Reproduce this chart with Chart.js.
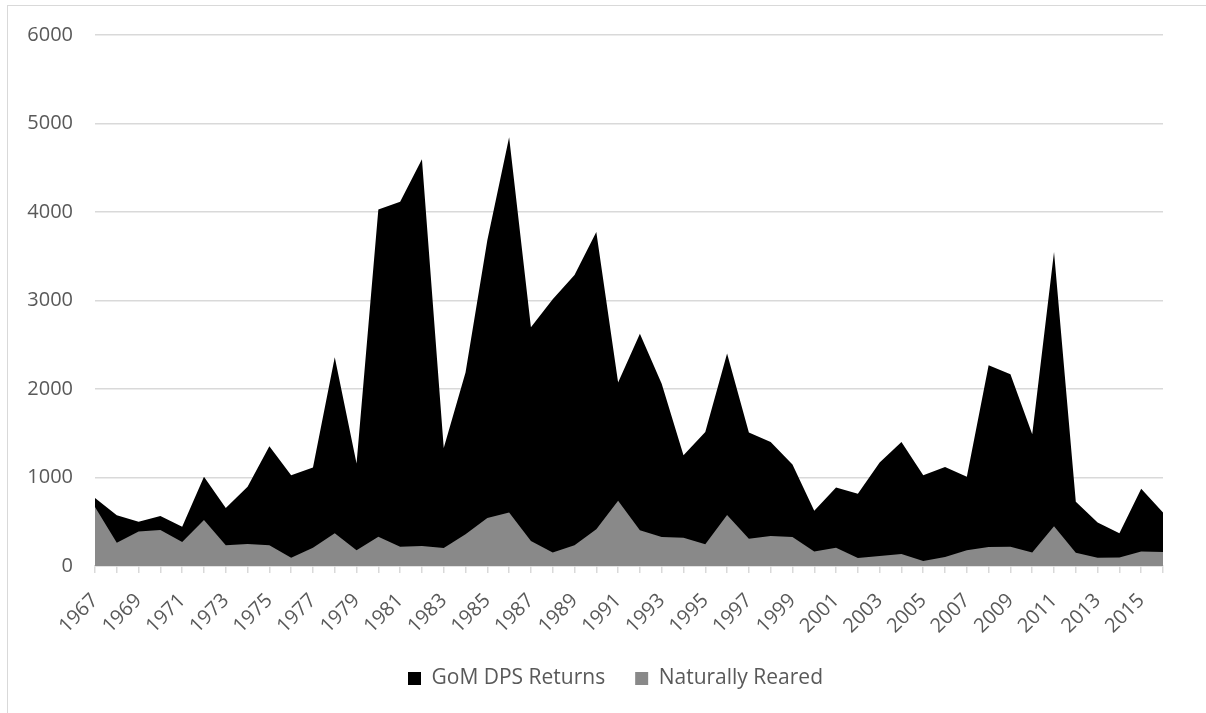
<!DOCTYPE html>
<html>
<head>
<meta charset="utf-8">
<script src="https://cdn.jsdelivr.net/npm/chart.js@4.4.1/dist/chart.umd.min.js"></script>
<style>
  html, body { margin: 0; padding: 0; background: #fff; overflow: hidden; }
  #frame { position: absolute; left: 7px; top: 5px; width: 1400px; height: 900px; border: 1px solid #d9d9d9; }
  #wrap { position: absolute; left: 0; top: 0; width: 1206px; height: 713px; }
</style>
</head>
<body>
<div id="frame"></div>
<div id="wrap"><canvas id="chart" width="1206" height="713"></canvas></div>
<script>
// annees 1967 - 2016
const years = [
  '1967','1968','1969','1970','1971','1972','1973','1974','1975','1976',
  '1977','1978','1979','1980','1981','1982','1983','1984','1985','1986',
  '1987','1988','1989','1990','1991','1992','1993','1994','1995','1996',
  '1997','1998','1999','2000','2001','2002','2003','2004','2005','2006',
  '2007','2008','2009','2010','2011','2012','2013','2014','2015','2016'
];

// GoM DPS Returns (total)
const gomReturns = [
  767, 573, 500, 565, 444, 1009, 654, 896, 1352, 1025,
  1114, 2360, 1158, 4027, 4116, 4596, 1332, 2187, 3680, 4846,
  2699, 3014, 3289, 3773, 2074, 2623, 2058, 1251, 1513, 2401,
  1509, 1400, 1146, 625, 888, 815, 1170, 1400, 1025, 1118,
  1009, 2268, 2167, 1489, 3547, 726, 492, 371, 872, 605
];

// Naturally Reared
const naturallyReared = [
  666, 262, 391, 408, 270, 520, 234, 250, 234, 93,
  206, 371, 178, 331, 218, 226, 202, 360, 541, 605,
  282, 153, 234, 416, 738, 404, 327, 319, 246, 577,
  307, 339, 327, 165, 206, 89, 113, 137, 56, 101,
  178, 214, 218, 153, 448, 149, 93, 97, 165, 157
];

const yTicks = [0, 1000, 2000, 3000, 4000, 5000, 6000];

const textColor = '#595959';
const gridColor = '#d9d9d9';
const fontFamily = '"Open Sans", "DejaVu Sans", sans-serif';

Chart.defaults.font.family = fontFamily;
Chart.defaults.font.size = 20;
Chart.defaults.color = textColor;

// decaler la legende vers la droite (centree sur le cadre)
const shiftLegend = {
    id: 'shiftLegend',
    afterLayout(chart) {
        if (chart.legend) {
            chart.legend.left += 34;
            chart.legend.right += 34;
        }
    }
};

const ctx = document.getElementById('chart').getContext('2d');

new Chart(ctx, {
    type: 'line',
    data: {
        labels: years,
        datasets: [
            {
                // dessine en dernier -> au-dessus
                label: 'Naturally Reared',
                data: naturallyReared,
                backgroundColor: '#898989',
                borderColor: '#898989',
                borderWidth: 0,
                pointRadius: 0,
                fill: 'origin',
                tension: 0
            },
            {
                label: 'GoM DPS Returns',
                data: gomReturns,
                backgroundColor: '#000000',
                borderColor: '#000000',
                borderWidth: 0,
                pointRadius: 0,
                fill: 'origin',
                tension: 0
            }
        ]
    },
    plugins: [shiftLegend],
    options: {
        responsive: false,
        animation: false,
        layout: {
            padding: { top: 35, right: 43, bottom: 14, left: 0 }
        },
        plugins: {
            tooltip: { enabled: false },
            legend: {
                position: 'bottom',
                labels: {
                    boxWidth: 13,
                    boxHeight: 13,
                    padding: 30,
                    color: textColor,
                    font: { size: 21 },
                    sort: (a, b) => b.datasetIndex - a.datasetIndex
                }
            }
        },
        scales: {
            x: {
                offset: false,
                border: { display: true, color: gridColor, width: 1.5 },
                grid: {
                    display: true,
                    drawOnChartArea: false,
                    drawTicks: true,
                    tickLength: 7,
                    color: gridColor,
                    lineWidth: 1.5
                },
                ticks: {
                    autoSkip: false,
                    maxRotation: 45,
                    minRotation: 45,
                    padding: 16,
                    color: textColor,
                    callback: function (value, index) {
                        return index % 2 === 0 ? years[index] : '';
                    }
                },
                afterFit: (scale) => { scale.height = 72; }
            },
            y: {
                min: 0,
                max: 6000,
                border: { display: false },
                grid: {
                    color: gridColor,
                    lineWidth: 1.5,
                    drawTicks: false
                },
                ticks: {
                    stepSize: 1000,
                    padding: 22,
                    color: textColor,
                    callback: (v) => yTicks.includes(v) ? String(v) : ''
                },
                afterFit: (scale) => { scale.width = 95; }
            }
        }
    }
});
</script>
</body>
</html>
